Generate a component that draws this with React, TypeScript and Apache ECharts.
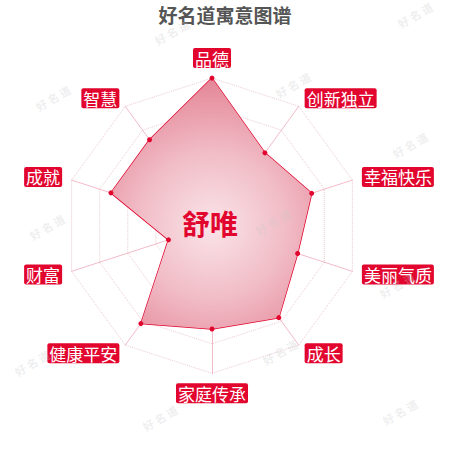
import { useEffect, useRef } from 'react';
import * as echarts from 'echarts';

// 寓意维度（从顶部顺时针）
const indicators = ['品德', '创新独立', '幸福快乐', '美丽气质', '成长', '家庭传承', '健康平安', '财富', '成就', '智慧'];
const scores = [100, 61, 71, 61, 77, 70, 82, 31, 72, 72];
const maxScore = 100;
const nameText = '舒唯';
const titleText = '好名道寓意图谱';
const watermarkText = '好 名 道';

// 水印位置
const watermarks: [number, number][] = [
  [172, 32], [415, 15], [53, 98], [293, 85], [410, 145], [47, 227],
  [273, 222], [397, 285], [32, 363], [280, 352], [160, 418], [400, 412],
];

const RED = '#e2062f';

// ECharts 雷达默认逆时针，首项保持在顶部，其余反转
const toCcw = <T,>(arr: T[]): T[] => [arr[0], ...arr.slice(1).reverse()];

const App: React.FC = () => {
  const chartRef = useRef<HTMLDivElement>(null);

  useEffect(() => {
    if (!chartRef.current) return;
    const chart = echarts.init(chartRef.current, null, { renderer: 'svg' });
    const cx = 212;
    const cy = 225.7;
    const r = 147.6;

    chart.setOption({
      animation: false,
      backgroundColor: '#fff',
      title: {
        text: titleText,
        left: 'center',
        top: 0,
        textStyle: {
          fontSize: 19,
          fontWeight: 'bold',
          color: '#555',
          fontFamily: 'Noto Sans CJK SC',
          textShadowColor: 'rgba(232,120,140,0.7)',
          textShadowOffsetX: 1,
          textShadowOffsetY: 1,
          textShadowBlur: 0,
        },
      },
      radar: {
        center: [cx, cy],
        radius: r,
        startAngle: 90,
        splitNumber: 5,
        shape: 'polygon',
        nameGap: 10,
        indicator: toCcw(indicators).map((name) => ({ name, max: maxScore })),
        axisName: {
          color: '#fff',
          backgroundColor: RED,
          borderRadius: 2,
          padding: [2, 2, 1, 2],
          fontSize: 17,
          lineHeight: 17,
          fontFamily: 'Noto Sans CJK SC',
        },
        axisLine: { lineStyle: { color: 'rgba(230,120,145,0.5)', width: 1 } },
        splitLine: { lineStyle: { color: 'rgba(225,180,190,0.7)', type: 'dotted', width: 1 } },
        splitArea: { show: false },
      },
      series: [
        {
          type: 'radar',
          symbol: 'circle',
          symbolSize: 5,
          data: [
            {
              value: toCcw(scores),
              name: nameText,
              itemStyle: { color: RED },
              lineStyle: { color: RED, width: 1.5 },
              areaStyle: {
                opacity: 1,
                color: new echarts.graphic.RadialGradient(cx, cy, r, [
                  { offset: 0, color: '#fae4e9' },
                  { offset: 0.5, color: '#f1bcc6' },
                  { offset: 1, color: '#e48596' },
                ], true),
              },
            },
          ],
        },
      ],
      graphic: [
        ...watermarks.map(([x, y]) => ({
          type: 'text',
          x,
          y,
          rotation: Math.PI / 6,
          z: 100,
          silent: true,
          style: {
            text: watermarkText,
            fill: 'rgba(200,200,200,0.3)',
            fontSize: 11,
            fontWeight: 'bold',
            fontFamily: 'Noto Sans CJK SC',
            align: 'center',
            verticalAlign: 'middle',
          },
        })),
        {
          type: 'text',
          x: 210,
          y: 222.5,
          z: 100,
          style: {
            text: nameText,
            fill: RED,
            fontSize: 28,
            fontWeight: 'bold',
            fontFamily: 'Noto Sans CJK SC',
            align: 'center',
            verticalAlign: 'middle',
          },
        },
      ],
    });

    return () => chart.dispose();
  }, []);

  return (
    <div
      ref={chartRef}
      style={{ position: 'fixed', left: 0, top: 0, width: 450, height: 450 }}
    />
  );
};

export default App;
